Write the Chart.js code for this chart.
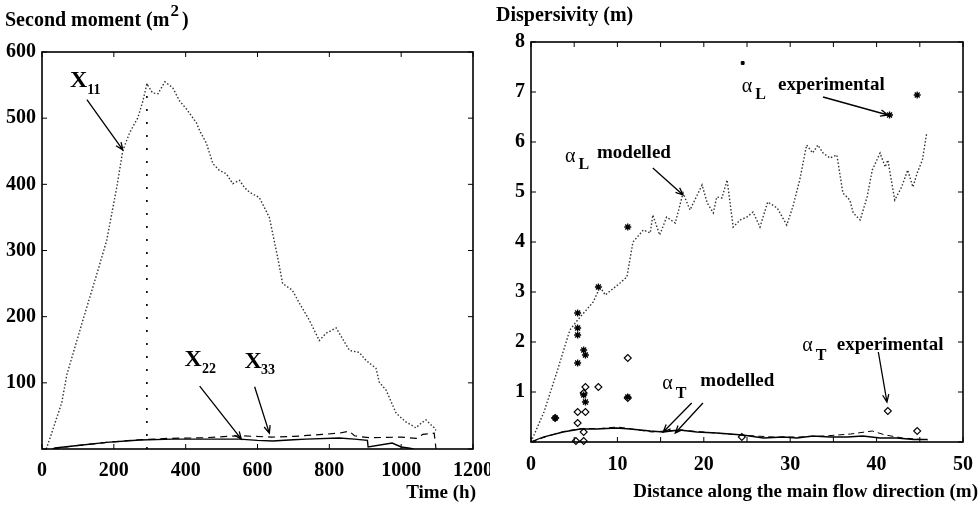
<!DOCTYPE html>
<html lang="en">
<head>
<meta charset="UTF-8">
<title>Second moment and dispersivity</title>
<style>
  body { margin: 0; background: #fff; }
  #wrap { position: relative; width: 979px; height: 505px; }
  canvas { position: absolute; top: 0; }
  #left { left: 0; }
  #right { left: 490px; }
</style>
<script src="https://cdn.jsdelivr.net/npm/chart.js"></script>
</head>
<body>
<div id="wrap">
  <canvas id="left" width="490" height="505"></canvas>
  <canvas id="right" width="489" height="505"></canvas>
</div>
<script>
// ---- left panel: second moments vs time ----
const x11Time = [12, 22, 55, 69, 114, 153, 180, 208, 225, 244, 267, 281, 292, 300, 308, 323, 342, 364, 383, 402, 430, 439, 457, 476, 494, 513, 531, 550, 564, 578, 605, 633, 656, 670, 697, 717, 744, 772, 791, 819, 856, 883, 902, 930, 939, 958, 986, 1013, 1041, 1058, 1069, 1078, 1092, 1097];
const x11Val  = [0, 16, 70, 112, 195, 265, 315, 395, 451, 478, 501, 526, 552, 545, 538, 537, 555, 546, 526, 514, 493, 481, 463, 431, 421, 416, 401, 406, 395, 388, 380, 350, 290, 250, 240, 220, 195, 164, 175, 183, 149, 146, 134, 122, 101, 89, 54, 41, 32, 40, 44, 39, 32, 28];

const x22Time = [30, 36, 87, 180, 272, 364, 457, 550, 600, 642, 700, 735, 828, 870, 906, 908, 975, 1000, 1020, 1035];
const x22Val  = [0, 1.5, 4.5, 10, 13.6, 15, 15, 15, 13, 12, 14, 15, 16.6, 15, 13, 3, 9, 3, 1.5, 0];

const x33Time = [30, 87, 180, 272, 350, 450, 550, 640, 700, 780, 828, 855, 870, 911, 1000, 1042, 1060, 1092, 1097];
const x33Val  = [0, 4.5, 10, 14, 16, 17, 20, 18, 19, 22, 24, 27, 20, 17, 18, 16, 22, 24, 0];

const peakTime = [292, 292];
const peakVal  = [0, 552];

// ---- right panel: dispersivity vs distance ----
const aLModDist = [0, 1.5, 3, 4.5, 5.4, 6.4, 7.2, 8, 8.6, 10.3, 11.1, 11.8, 13, 13.8, 14.1, 14.9, 15.7, 16.7, 17.6, 18.4, 19.8, 20.4, 21.1, 21.5, 22.1, 22.7, 23.4, 24.2, 25, 25.7, 26.5, 27.4, 28.5, 29.6, 30.3, 31.1, 31.9, 32.6, 33.2, 33.8, 34.6, 35.4, 36.1, 36.9, 37.3, 38.1, 38.9, 39.5, 40.4, 41, 41.3, 42.1, 42.9, 43.6, 44.2, 44.7, 45.3, 45.8];
const aLModVal  = [0, 0.6, 1.4, 2.24, 2.44, 2.64, 2.8, 3.1, 2.94, 3.18, 3.3, 4.0, 4.24, 4.18, 4.54, 4.14, 4.5, 4.38, 4.98, 4.64, 5.14, 4.78, 4.58, 4.9, 4.88, 5.24, 4.3, 4.44, 4.5, 4.6, 4.3, 4.8, 4.68, 4.34, 4.7, 5.24, 5.94, 5.78, 5.94, 5.78, 5.68, 5.74, 4.98, 4.84, 4.58, 4.44, 4.9, 5.44, 5.78, 5.5, 5.64, 4.84, 5.1, 5.44, 5.1, 5.38, 5.64, 6.18];

const aTModDist = [0, 1.4, 3.7, 5.7, 7.6, 9.9, 11.5, 13.8, 15.3, 17.2, 19.2, 21.5, 24.5, 26.9, 29.2, 30.8, 32.6, 34.6, 36.6, 38.4, 40.4, 42.3, 44.3, 45.9];
const aTModVal  = [0, 0.1, 0.2, 0.26, 0.26, 0.28, 0.26, 0.22, 0.2, 0.24, 0.2, 0.18, 0.14, 0.08, 0.1, 0.08, 0.12, 0.1, 0.1, 0.12, 0.08, 0.08, 0.05, 0.05];

const aTMod2Dist = [0, 2, 4, 6, 8, 10, 12, 14, 17, 20, 22, 25, 28, 31, 34, 37, 39.5, 41, 43, 45.9];
const aTMod2Val  = [0, 0.12, 0.22, 0.27, 0.27, 0.3, 0.25, 0.2, 0.24, 0.2, 0.17, 0.13, 0.1, 0.1, 0.12, 0.16, 0.22, 0.14, 0.08, 0.04];

const aLExpDist = [2.8, 5.4, 5.4, 5.4, 6.1, 6.3, 5.4, 7.8, 11.2, 6.3, 6.1, 11.2, 41.5, 44.7];
const aLExpVal  = [0.48, 2.58, 2.28, 2.14, 1.84, 1.74, 1.58, 3.1, 0.9, 0.8, 0.94, 4.3, 6.54, 6.94];

const aLDotDist = [24.5];
const aLDotVal  = [7.58];

const aTExpDist = [11.2, 7.8, 6.3, 6.1, 5.4, 6.3, 5.4, 6.1, 5.2, 6.1, 11.2, 41.3, 44.7, 24.4, 2.8];
const aTExpVal  = [1.68, 1.1, 1.1, 0.98, 0.6, 0.6, 0.38, 0.2, 0.02, 0.02, 0.88, 0.62, 0.22, 0.1, 0.48];

const serif = '"Liberation Serif", "Times New Roman", serif';
Chart.defaults.font.family = serif;
Chart.defaults.color = '#000';
Chart.defaults.animation = false;

function pts(xs, ys) {
    return xs.map((v, i) => ({ x: v, y: ys[i] }));
}

// box frame, inward ticks, labels and arrows
const framePlugin = {
    id: 'frame',
    afterDraw(chart, args, o) {
        const { ctx, chartArea: a } = chart;
        const x = chart.scales.x, y = chart.scales.y;
        ctx.save();
        ctx.strokeStyle = '#000';
        ctx.fillStyle = '#000';
        ctx.lineWidth = 1.6;
        ctx.strokeRect(a.left, a.top, a.right - a.left, a.bottom - a.top);

        ctx.lineWidth = 1;
        const len = 5;
        for (let v = x.min; v <= x.max + 1e-9; v += o.xTick) {
            const p = x.getPixelForValue(v);
            ctx.beginPath();
            ctx.moveTo(p, a.bottom); ctx.lineTo(p, a.bottom - len);
            ctx.moveTo(p, a.top); ctx.lineTo(p, a.top + len);
            ctx.stroke();
        }
        for (let v = y.min; v <= y.max + 1e-9; v += o.yTick) {
            const p = y.getPixelForValue(v);
            ctx.beginPath();
            ctx.moveTo(a.left, p); ctx.lineTo(a.left + len, p);
            ctx.moveTo(a.right, p); ctx.lineTo(a.right - len, p);
            ctx.stroke();
        }

        // annotation text, anchored in data units
        ctx.textAlign = 'left';
        ctx.textBaseline = 'middle';
        (o.notes || []).forEach(n => {
            const px = x.getPixelForValue(n.x), py = y.getPixelForValue(n.y);
            ctx.font = (n.weight || 'bold') + ' ' + n.size + 'px ' + serif;
            ctx.fillText(n.text, px, py);
            if (n.sub) {
                const w = ctx.measureText(n.text).width;
                ctx.font = 'bold ' + n.subSize + 'px ' + serif;
                ctx.fillText(n.sub, px + w + n.gap, py + n.drop);
            }
        });

        // arrows
        ctx.lineWidth = 1.3;
        (o.arrows || []).forEach(r => {
            const x0 = x.getPixelForValue(r[0]), y0 = y.getPixelForValue(r[1]);
            const x1 = x.getPixelForValue(r[2]), y1 = y.getPixelForValue(r[3]);
            const ang = Math.atan2(y1 - y0, x1 - x0);
            const h = 8;
            ctx.beginPath();
            ctx.moveTo(x0, y0); ctx.lineTo(x1, y1);
            ctx.moveTo(x1 - h * Math.cos(ang - 0.4), y1 - h * Math.sin(ang - 0.4));
            ctx.lineTo(x1, y1);
            ctx.lineTo(x1 - h * Math.cos(ang + 0.4), y1 - h * Math.sin(ang + 0.4));
            ctx.stroke();
        });

        // captions (axis titles)
        (o.captions || []).forEach(c => {
            ctx.font = 'bold ' + c.size + 'px ' + serif;
            ctx.textAlign = c.align;
            ctx.fillText(c.text, c.px, c.py);
            if (c.sup) {
                let w = ctx.measureText(c.text).width;
                ctx.textAlign = 'left';
                ctx.font = 'bold ' + (c.size - 3) + 'px ' + serif;
                ctx.fillText(c.sup, c.px + w + 1, c.py - 9);
                w += ctx.measureText(c.sup).width + 4;
                ctx.font = 'bold ' + c.size + 'px ' + serif;
                ctx.fillText(c.after, c.px + w, c.py);
            }
        });
        ctx.restore();
    }
};

function axis(min, max, step, width, hideZero, pad) {
    return {
        type: 'linear', min: min, max: max,
        grid: { display: false, drawTicks: false }, border: { display: false },
        ticks: {
            stepSize: step, padding: pad, maxRotation: 0,
            font: { size: 20, weight: 'bold' },
            callback: v => (hideZero && v === 0) ? '' : v
        },
        afterFit: s => {
            if (s.isHorizontal()) { s.height = width; s.paddingLeft = 0; s.paddingRight = 0; }
            else { s.width = width; s.paddingTop = 0; s.paddingBottom = 0; }
        }
    };
}

new Chart(document.getElementById('left'), {
    type: 'scatter',
    data: {
        datasets: [
            { data: pts(x11Time, x11Val), showLine: true, pointRadius: 0, borderColor: '#333', borderWidth: 1.4, borderDash: [1.5, 2] },
            { data: pts(peakTime, peakVal), showLine: true, pointRadius: 0, borderColor: '#000', borderWidth: 1.6, borderDash: [2, 11] },
            { data: pts(x22Time, x22Val), showLine: true, pointRadius: 0, borderColor: '#000', borderWidth: 1.4 },
            { data: pts(x33Time, x33Val), showLine: true, pointRadius: 0, borderColor: '#000', borderWidth: 1.2, borderDash: [7, 5] }
        ]
    },
    options: {
        responsive: false,
        layout: { padding: { left: 0, right: 17, top: 52, bottom: 0 } },
        plugins: {
            legend: { display: false },
            tooltip: { enabled: false },
            frame: {
                xTick: 200, yTick: 100,
                notes: [
                    { text: 'X', sub: '11', x: 78, y: 557, size: 24, subSize: 14, gap: 0, drop: 10 },
                    { text: 'X', sub: '22', x: 397, y: 135, size: 24, subSize: 14, gap: 0, drop: 10 },
                    { text: 'X', sub: '33', x: 564, y: 132, size: 24, subSize: 14, gap: -1, drop: 9 }
                ],
                arrows: [
                    [125, 528, 225, 452],
                    [439, 95, 555, 15],
                    [592, 94, 633, 24]
                ],
                captions: [
                    { text: 'Second moment (m', sup: '2', after: ')', size: 20, px: 5, py: 21, align: 'left' },
                    { text: 'Time (h)', size: 19, px: 476, py: 493, align: 'right' }
                ]
            }
        },
        scales: {
            x: axis(0, 1200, 200, 56, false, 10),
            y: axis(0, 600, 100, 42, true, 6)
        }
    },
    plugins: [framePlugin]
});

new Chart(document.getElementById('right'), {
    type: 'scatter',
    data: {
        datasets: [
            { data: pts(aLModDist, aLModVal), showLine: true, pointRadius: 0, borderColor: '#333', borderWidth: 1.4, borderDash: [1.5, 2] },
            { data: pts(aTModDist, aTModVal), showLine: true, pointRadius: 0, borderColor: '#000', borderWidth: 1.3 },
            { data: pts(aTMod2Dist, aTMod2Val), showLine: true, pointRadius: 0, borderColor: '#000', borderWidth: 1, borderDash: [6, 4] },
            { data: pts(aLExpDist, aLExpVal), pointStyle: 'star', pointRadius: 3.5, borderColor: '#000', borderWidth: 1.3, clip: false },
            { data: pts(aLDotDist, aLDotVal), pointStyle: 'rect', pointRadius: 2, borderColor: '#000', backgroundColor: '#000', borderWidth: 1 },
            { data: pts(aTExpDist, aTExpVal), pointStyle: 'rectRot', pointRadius: 3.5, borderColor: '#000', backgroundColor: '#fff', borderWidth: 1.1, clip: false }
        ]
    },
    options: {
        responsive: false,
        layout: { padding: { left: 0, right: 16, top: 42, bottom: 0 } },
        plugins: {
            legend: { display: false },
            tooltip: { enabled: false },
            frame: {
                xTick: 5, yTick: 1,
                notes: [
                    { text: 'α', sub: 'L', x: 24.4, y: 7.1, size: 20, weight: 'normal', subSize: 16, gap: 3, drop: 8 },
                    { text: 'experimental', x: 28.6, y: 7.14, size: 19 },
                    { text: 'α', sub: 'L', x: 3.94, y: 5.7, size: 20, weight: 'normal', subSize: 16, gap: 3, drop: 8 },
                    { text: 'modelled', x: 7.64, y: 5.78, size: 19 },
                    { text: 'α', sub: 'T', x: 31.4, y: 1.92, size: 20, weight: 'normal', subSize: 16, gap: 3, drop: 10 },
                    { text: 'experimental', x: 35.4, y: 1.94, size: 19 },
                    { text: 'α', sub: 'T', x: 15.2, y: 1.16, size: 20, weight: 'normal', subSize: 16, gap: 3, drop: 10 },
                    { text: 'modelled', x: 19.6, y: 1.22, size: 19 }
                ],
                arrows: [
                    [33.8, 6.9, 41.3, 6.54],
                    [14.1, 5.48, 17.6, 4.94],
                    [40.2, 1.8, 41.2, 0.8],
                    [18.6, 0.78, 15.3, 0.2],
                    [19.9, 0.78, 16.7, 0.18]
                ],
                captions: [
                    { text: 'Dispersivity (m)', size: 20, px: 6, py: 16, align: 'left' },
                    { text: 'Distance along the main flow direction (m)', size: 19, px: 488, py: 492, align: 'right' }
                ]
            }
        },
        scales: {
            x: axis(0, 50, 10, 63, false, 11),
            y: axis(0, 8, 1, 41, true, 6)
        }
    },
    plugins: [framePlugin]
});
</script>
</body>
</html>
